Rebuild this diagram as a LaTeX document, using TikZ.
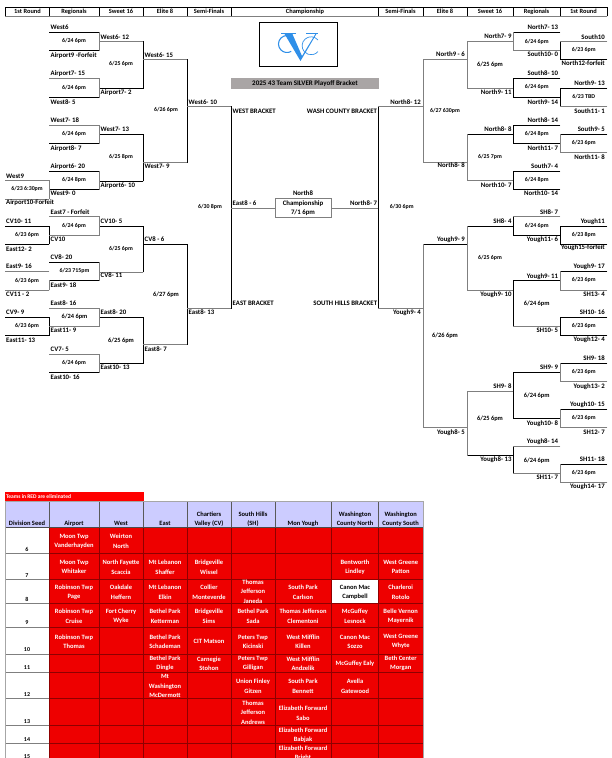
\documentclass[tikz,border=0pt]{standalone}
\usepackage{fontspec}
\setmainfont{Carlito}
\usepackage{xcolor}
\definecolor{linegray}{HTML}{7F7F7F}
\definecolor{bannergray}{HTML}{A9A5A5}
\definecolor{headblue}{HTML}{CCCCFF}
\definecolor{cellred}{HTML}{EE0000}
\definecolor{gridred}{HTML}{8E0000}
\definecolor{logoblue}{HTML}{2F8FE8}
\tikzset{
    blackline/.style={draw=black, line width=0.9pt, line cap=rect},
    grayline/.style={draw=linegray, line width=0.9pt, line cap=rect},
    team/.style={inner sep=0pt, text height=4.4pt, text depth=1.3pt, font=\fontsize{6.8}{7}\selectfont\bfseries},
    teamleft/.style={team, anchor=west},
    teamright/.style={team, anchor=east},
    playdate/.style={team, font=\fontsize{5.9}{7}\selectfont\bfseries},
    playdatebig/.style={team, font=\fontsize{6.4}{7}\selectfont\bfseries},
    headcell/.style={team, font=\fontsize{6.4}{7}\selectfont\bfseries},
    tablehead/.style={inner sep=0pt, align=center, font=\fontsize{6.5}{9.1}\selectfont\bfseries},
    player/.style={inner sep=0pt, align=center, text=white, font=\fontsize{6.5}{9.1}\selectfont\bfseries},
    seed/.style={team, font=\fontsize{6}{7}\selectfont\bfseries},
}
\begin{document}
\begin{tikzpicture}[x=1pt, y=-1pt]
    \useasboundingbox (0,0) rectangle (611,758);

    % column headings
    \draw[grayline] (5,16) -- (607,16);
    \draw[blackline] (5,7) -- (607,7);
    \foreach \xa in {5,49,99,143,187,231,378,423,467,513,560,607}
        \draw[blackline] (\xa,7) -- (\xa,16);
    \foreach \xa/\lab [count=\i] in {27.5/1st Round,74/Regionals,121/Sweet 16,165/Elite 8,209/Semi-Finals,305/Championship,400.5/Semi-Finals,445/Elite 8,490/Sweet 16,536.5/Regionals,583.5/1st Round}
        \node[headcell] (head\i) at (\xa,11.7) {\lab};

    % logo and title
    \node[draw=black, line width=0.9pt, minimum width=78.4pt, minimum height=44.4pt, inner sep=0pt] (logobox) at (298.5,44.5) {};
    \draw[logoblue, line width=1.1pt] (293,38) arc[start angle=-45, end angle=-300, radius=8.5];
    \draw[logoblue, line width=0.7pt] (318,40) arc[start angle=-40, end angle=-320, radius=9];
    \fill[logoblue] (284,33) -- (292,33) -- (302,56) -- (316,33) -- (317,33) -- (300.5,61) -- cycle;
    \draw[logoblue, line width=0.6pt] (281,32.8) -- (296,32.8) (306,32.8) -- (318,32.8);
    \node[fill=bannergray, minimum width=148pt, minimum height=10.4pt, inner sep=0pt, text height=4.4pt, text depth=1.3pt, font=\fontsize{7}{7}\selectfont\bfseries] (titlebar) at (305,83.5) {2025 43 Team SILVER Playoff Bracket};

    % bracket lines, black
    \foreach \xa/\yy/\xb in {49/32.3/99,49/50.7/99,99/88.3/143,49/97.3/99,49/143.3/99,99/134.3/143,99/181/143,49/171.7/99,49/189.7/99,5/226.3/49,5/244/49,99/226.3/143,143/244/187,49/262.3/99,49/280.7/99,5/317.3/49,5/335.3/49,99/317.3/143,99/363.3/143,49/372.3/99,513/32.3/560,560/59.7/607,513/78/560,513/97.3/560,560/88.3/607,467/134.3/513,513/125/560,513/143.3/560,560/134.3/607,513/171.7/560,513/189.7/560,513/235.3/560,560/226.3/607,560/244.3/607,423/244.3/467,467/226.3/513,513/280.7/560,560/271.7/607,560/317.3/607,560/335.3/607,560/363.3/607,513/372.3/560,513/418.7/560,560/409.3/607,467/455.3/513,560/464.3/607}
        \draw[blackline] (\xa,\yy) -- (\xb,\yy);
    \foreach \xx/\ya/\yb in {143/41.3/88.3,187/59.7/162.3,143/134.3/181,231/106.7/308.3,49/226.3/244,143/226.3/272,187/244/344.7,49/317.3/335.3,143/317.3/363.3,378/106.7/308.3,513/78/97.3,560/41.3/59.7,560/88.3/106.7,513/125/143.3,513/171.7/189.7,513/216.7/235.3,560/226.3/244.3,513/280.7/326.3,560/317.3/335.3,513/372.3/418.7,513/446/473.7}
        \draw[blackline] (\xx,\ya) -- (\xx,\yb);

    % bracket lines, gray
    \foreach \xa/\yy/\xb in {99/41.3/143,49/78/99,143/59.7/187,143/162.3/187,49/125/99,187/106.7/231,187/308.3/231,5/180.7/49,5/199/49,49/216.7/99,49/235.3/99,99/272/143,143/344.7/187,5/271.7/49,5/290/49,49/308.3/99,49/326.3/99,49/354/99,378/106.7/423,378/308.3/423,423/59.7/467,423/162.3/467,467/41.3/513,467/88.3/513,513/50.7/560,560/41.3/607,560/106.7/607,467/180.7/513,560/152.7/607,513/216.7/560,423/427.7/467,467/290/513,513/326.3/560,560/290/607,560/381.7/607,560/427.7/607,467/391/513,513/446/560,513/473.7/560,560/482.7/607}
        \draw[grayline] (\xa,\yy) -- (\xb,\yy);
    \foreach \xx/\ya/\yb in {99/32.3/50.7,99/78/97.3,99/125/143.3,99/171.7/189.7,49/180.7/199,99/216.7/235.3,99/262.3/280.7,49/280.7/290,99/308.3/326.3,99/354/372.3,423/59.7/162.3,467/41.3/88.3,513/32.3/50.7,467/134.3/180.7,560/134.3/152.7,423/244.3/427.7,467/226.3/290,560/271.7/290,560/363.3/381.7,560/409.3/427.7,467/391/455.3,560/464.3/482.7}
        \draw[grayline] (\xx,\ya) -- (\xx,\yb);

    % championship
    \coordinate (westfinal) at (231,208);
    \coordinate (northfinal) at (378,208);
    \node[draw=linegray, line width=0.9pt, minimum width=56pt, minimum height=18.6pt, inner sep=0pt, align=center, font=\fontsize{6.8}{9.3}\selectfont\bfseries] (champ) at (303,208) {Championship\\7/1 6pm};
    \node[team] (champname) at (303,193.7) {North8};
    \draw[grayline] (westfinal) -- (champ);
    \draw[grayline] (champ) -- (northfinal);

    % teams, left half
    \foreach \xx/\yy/\lab [count=\i] in {50.5/27.7/West6,50.5/55.7/Airport9 -Forfeit,50.5/73.7/Airport7- 15,50.5/102.7/West8- 5,50.5/120.7/West7- 18,50.5/148.7/Airport8- 7,50.5/166.7/Airport6- 20,50.5/193.7/West9- 0,100.5/37.7/West6- 12,100.5/93/Airport7- 2,100.5/129.7/West7- 13,100.5/185.7/Airport6- 10,144.5/55.7/West6- 15,144.5/166.7/West7- 9,188.5/102.7/West6- 10,232.5/111.7/WEST BRACKET,6/176.7/West9,6/203.3/Airport10-Forfeit,50.5/212.7/East7 - Forfeit,50.5/239.7/CV10,6/221.7/CV10- 11,100.5/221.7/CV10- 5,144.5/239.7/CV8 - 6,232.5/203.7/East8 - 6,6/249.7/East12- 2,50.5/257.7/CV8- 20,6/266.7/East9- 16,50.5/285.7/East9- 18,100.5/275.7/CV8- 11,6/294.7/CV11 - 2,50.5/303.7/East8- 16,232.5/303.7/EAST BRACKET,188.5/312.7/East8- 13,6/312.7/CV9- 9,100.5/312.7/East8- 20,50.5/330.7/East11- 9,6/340.7/East11- 13,50.5/349.7/CV7- 5,144.5/349.7/East8- 7,100.5/367.7/East10- 13,50.5/377.7/East10- 16}
        \node[teamleft] (lteam\i) at (\xx,\yy) {\lab};

    % teams, right half
    \foreach \xx/\yy/\lab [count=\i] in {558.3/28/North7- 13,511.7/36.7/North7- 9,605/37.7/South10,558.3/55/South10- 0,465/55/North9 - 6,605/64.3/North12-forfeit,558.3/73.7/South8- 10,605/84/North9- 13,511.7/93/North9- 11,558.3/103/North9- 14,421/102.7/North8- 12,605/111.7/South11- 1,377.3/111.7/WASH COUNTY BRACKET,558.3/120.7/North8- 14,511.7/129.7/North8- 8,605/129.7/South9- 5,558.3/148.7/North11- 7,605/157.7/North11- 8,465/166/North8- 8,558.3/166.7/South7- 4,511.7/185.7/North10- 7,558.3/193.7/North10- 14,377.3/203.7/North8- 7,558.3/212.7/SH8- 7,511.7/221.7/SH8- 4,605/221.7/Yough11,465/239.7/Yough9- 9,558.3/239.7/Yough11- 6,605/247.7/Yough15-forfeit,605/266.7/Yough9- 17,558.3/276.7/Yough9- 11,511.7/294.7/Yough9- 10,605/294.7/SH13- 4,377.3/303.7/SOUTH HILLS BRACKET,605/312.7/SH10- 16,421/312.7/Yough9- 4,558.3/330.7/SH10- 5,605/339.7/Yough12- 4,605/358.7/SH9- 18,558.3/367.7/SH9- 9,605/386.7/Yough13- 2,511.7/386.7/SH9- 8,605/404.7/Yough10- 15,558.3/423.7/Yough10- 8,605/432.7/SH12- 7,465/432.7/Yough8- 5,558.3/441.7/Yough8- 14,605/459.7/SH11- 18,511.7/459.7/Yough8- 13,558.3/478.3/SH11- 7,605/487.3/Yough14- 17}
        \node[teamright] (rteam\i) at (\xx,\yy) {\lab};

    % game dates
    \foreach \xx/\yy/\lab [count=\i] in {74/41/24 6pm,74/88/24 6pm,74/134/24 6pm,74/180/24 8pm,121/64/25 6pm,121/157/25 8pm,166/110/26 6pm,27/189/23 6:30pm,74/226/24 6pm,27/235/23 6pm,210/207/30 8pm,121/249/25 6pm,74.5/271/23 715pm,27/281/23 6pm,27/326/23 6pm,74/363/24 6pm,536.7/42/24 6pm,583.7/50/23 6pm,536.7/87.3/24 6pm,583.7/97/23 TBD,445/110.7/27 630pm,536.7/134/24 8pm,583.7/143.3/23 6pm,490/157/25 7pm,536.7/180/24 8pm,401.7/207/30 6pm,536.7/226/24 6pm,583.7/235/23 8pm,490/258/25 6pm,583.7/280/23 6pm,583.7/326/23 6pm,583.7/372/23 6pm,583.7/418/23 6pm,583.7/473/23 6pm}
        \node[playdate] (date\i) at (\xx,\yy) {6/\lab};
    \foreach \xx/\yy/\lab [count=\i] in {166/295/27 6pm,74.5/317/24 6pm,121/341/25 6pm,490/65/25 6pm,536.7/304/24 6pm,445/336/26 6pm,536.7/395.7/24 6pm,490/419/25 6pm,536.7/460.7/24 6pm}
        \node[playdatebig] (bigdate\i) at (\xx,\yy) {6/\lab};

    % seed table
    \node[fill=red, minimum width=139pt, minimum height=8.7pt, inner sep=0pt] (redbar) at (74.5,496.3) {};
    \node[anchor=west, inner sep=0pt, text=white, font=\fontsize{5.5}{6}\selectfont\bfseries] (redtext) at (6,496.3) {Teams in RED are eliminated};
    \fill[headblue] (5,501.3) rectangle (423,527.3);
    \fill[cellred] (49,527.3) rectangle (423,758);
    \fill[white] (331,579.7) rectangle (378.7,603.3);
    \foreach \yy in {553.7,579.7,603.3,627.3,654.3,672.3,698.7,725.7,743.7}
        \draw[gridred, line width=0.7pt] (49,\yy) -- (423,\yy);
    \foreach \yy in {553.7,579.7,603.3,627.3,654.3,672.3,698.7,725.7,743.7}
        \draw[linegray, line width=0.7pt] (5,\yy) -- (49,\yy);
    \foreach \xx in {49,99,143,187,231,275.7,331,378.7}
        \draw[gridred, line width=0.7pt] (\xx,527.3) -- (\xx,758);
    \foreach \xx in {49,99,143,187,231,275.7,331,378.7}
        \draw[black!65, line width=0.6pt] (\xx,501.3) -- (\xx,527.3);
    \draw[black!70, line width=0.7pt] (5,527.3) -- (423,527.3);
    \draw[gray!70, line width=0.9pt] (5,758) -- (5,501.3) -- (423,501.3) -- (423,758);

    \foreach \xx/\yy/\lab [count=\i] in {27/523.7/Division Seed,74/523.7/Airport,121/523.7/West,165/523.7/East,209/519.2/Chartiers\\Valley (CV),253/519.2/South Hills\\(SH),303/523.7/Mon Yough,355/519.2/Washington\\County North,400.7/519.2/Washington\\County South}
        \node[tablehead] (tablehead\i) at (\xx,\yy) {\lab};
    \foreach \num/\yy [count=\i] in {6/549.7,7/575.7,8/599.7,9/623.3,10/650.3,11/668.3,12/694.7,13/721.7,14/739.7,15/757}
        \node[seed] (seednum\i) at (27,\yy) {\num};

    % players
    \foreach \xx/\yy/\lab [count=\i] in {74/541.2/Moon Twp\\Vanderhayden,121/541.2/Weirton\\North,74/567.2/Moon Twp\\Whitaker,121/567.2/North Fayette\\Scaccia,165/567.2/Mt Lebanon\\Shaffer,209/567.2/Bridgeville\\Wissel,355/567.2/Bentworth\\Lindley,400.7/567.2/West Greene\\Patton,74/592.2/Robinson Twp\\Page,121/592.2/Oakdale\\Heffern,165/592.2/Mt Lebanon\\Elkin,209/592.2/Collier\\Monteverde,253/591.7/Thomas\\Jefferson\\Janeda,303/592.2/South Park\\Carlson,400.7/592.2/Charleroi\\Rotolo,74/616.2/Robinson Twp\\Cruise,121/616.2/Fort Cherry\\Wyke,165/616.2/Bethel Park\\Ketterman,209/616.2/Bridgeville\\Sims,253/616.2/Bethel Park\\Sada,303/616.2/Thomas Jefferson\\Clementoni,355/616.2/McGuffey\\Lesnock,400.7/616.2/Belle Vernon\\Mayernik,74/641.5/Robinson Twp\\Thomas,165/641.5/Bethel Park\\Schademan,209/641.7/CIT Matson,253/641.5/Peters Twp\\Kicinski,303/641.5/West Mifflin\\Killen,355/641.5/Canon Mac\\Sozzo,400.7/641.5/West Greene\\Whyte,165/663.5/Bethel Park\\Dingle,209/663.5/Carnegie\\Stohon,253/663.5/Peters Twp\\Gilligan,303/663.5/West Mifflin\\Andzelik,355/664/McGuffey Ealy,400.7/663.5/Beth Center\\Morgan,165/686/Mt\\Washington\\McDermott,253/686.2/Union Finley\\Gitzen,303/686.2/South Park\\Bennett,355/686.2/Avella\\Gatewood,253/712.7/Thomas\\Jefferson\\Andrews,303/713.2/Elizabeth Forward\\Sabo,303/735.2/Elizabeth Forward\\Babjak,303/753/Elizabeth Forward\\Bright}
        \node[player] (player\i) at (\xx,\yy) {\lab};
    \node[player, text=black] (playerwhite) at (355,592.2) {Canon Mac\\Campbell};
\end{tikzpicture}
\end{document}
